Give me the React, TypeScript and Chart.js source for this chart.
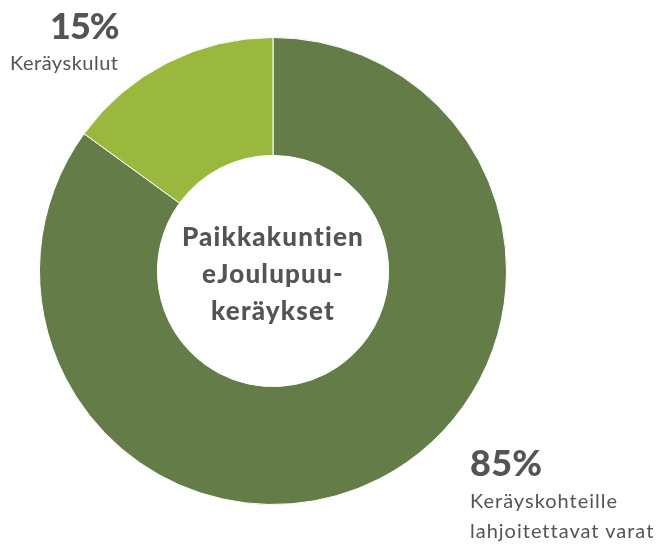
import React, { useEffect, useRef } from "react";
import { Chart, registerables } from "chart.js";

Chart.register(...registerables);

const categories = ["Keräyskohteille lahjoitettavat varat", "Keräyskulut"];
const values = [85, 15];
const colors = ["#647C47", "#9AB83D"];
const centerLines = ["Paikkakuntien", "eJoulupuu-", "keräykset"];

const FONT = "Lato, 'Noto Sans', sans-serif";
const TEXT = "#545454";

export default function App() {
  const ref = useRef<HTMLCanvasElement | null>(null);
  useEffect(() => {
    if (!ref.current) return;
    const chart = new Chart(ref.current, {
      type: "doughnut",
      data: {
        labels: categories,
        datasets: [
          {
            data: values,
            backgroundColor: colors,
            borderColor: "#ffffff",
            borderWidth: 1,
          },
        ],
      },
      options: {
        responsive: false,
        animation: false,
        cutout: "49.5%",
        layout: { padding: { left: 38, top: 37, right: 158, bottom: 47 } },
        plugins: { legend: { display: false }, tooltip: { enabled: false } },
      },
    });
    return () => chart.destroy();
  }, []);

  const abs = (s: React.CSSProperties): React.CSSProperties => ({
    position: "absolute",
    fontFamily: FONT,
    color: TEXT,
    whiteSpace: "nowrap",
    ...s,
  });

  return (
    <div style={{ position: "fixed", left: 0, top: 0, width: 666, height: 552, background: "#fff" }}>
      <canvas ref={ref} width={666} height={552} style={{ position: "absolute", left: 0, top: 0 }} />
      <div style={abs({ left: 50, top: 3, fontSize: 36, fontWeight: 900, lineHeight: "44px", letterSpacing: "-1px" })}>15%</div>
      <div style={abs({ left: 10, top: 49, fontSize: 20, lineHeight: "26px", letterSpacing: "0.5px" })}>{categories[1]}</div>
      <div style={abs({ left: 470, top: 440, fontSize: 36, fontWeight: 900, lineHeight: "44px", letterSpacing: "0.3px" })}>85%</div>
      <div style={abs({ left: 470, top: 485, fontSize: 20, lineHeight: "30px", letterSpacing: "1px" })}>
        Keräyskohteille
        <br />
        lahjoitettavat varat
      </div>
      <div
        style={abs({
          left: 163,
          width: 220,
          top: 218,
          textAlign: "center",
          fontSize: 26,
          fontWeight: 900,
          lineHeight: "37px",
          letterSpacing: "1.2px",
        })}
      >
        {centerLines.map((l) => (
          <div key={l}>{l}</div>
        ))}
      </div>
    </div>
  );
}
